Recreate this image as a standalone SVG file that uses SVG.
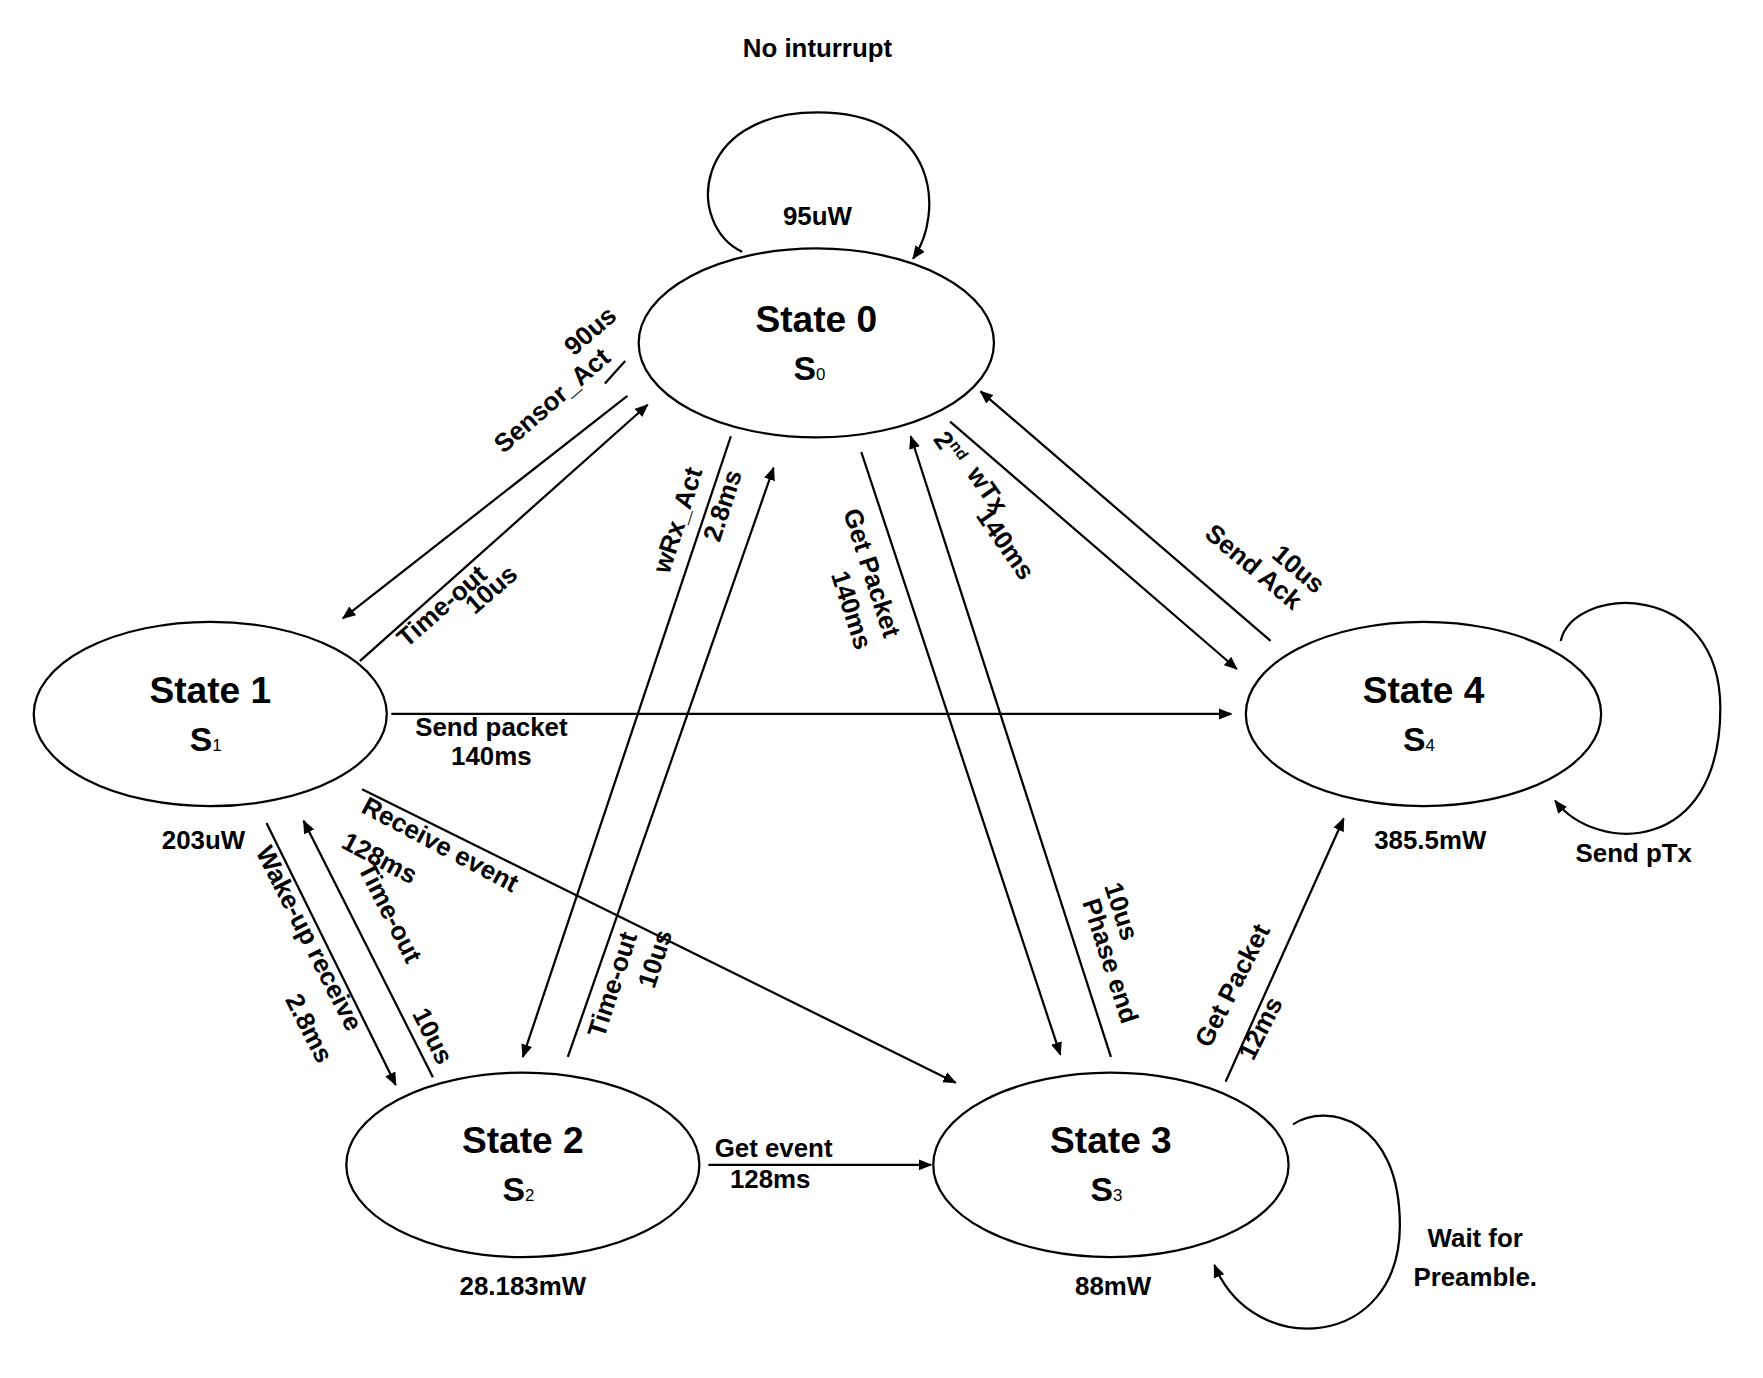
<svg xmlns="http://www.w3.org/2000/svg" width="1763" height="1378" viewBox="0 0 1763 1378">
<style>
.n{fill:#fff;stroke:#000;stroke-width:2}
.c{fill:none;stroke:#000;stroke-width:2}
text{font-family:"Liberation Sans Narrow","Liberation Sans",Arial,sans-serif;font-weight:bold;fill:#000;text-anchor:middle}
.t{font-size:33px}
.s{font-size:30px}
.l{font-size:23px}
.sub{font-size:15px;font-weight:normal}
</style>
<defs>
<marker id="a" viewBox="0 0 12 10" refX="11" refY="5" markerWidth="12" markerHeight="10" markerUnits="userSpaceOnUse" orient="auto"><path d="M0,0L12,5L0,10z" fill="#000"/></marker>
</defs>
<rect width="1763" height="1378" fill="#fff"/>
<g transform="scale(1.1244)">
<g id="nodes">
<g id="s0"><ellipse class="n" cx="726" cy="305" rx="158" ry="84"/><text class="t" x="726" y="295">State 0</text><text class="s" x="720" y="338">S<tspan class="sub">0</tspan></text><text class="l" x="727" y="200">95uW</text></g>
<g id="s1"><ellipse class="n" cx="187" cy="635" rx="157" ry="82"/><text class="t" x="187" y="625">State 1</text><text class="s" x="183" y="668">S<tspan class="sub">1</tspan></text><text class="l" x="181" y="755">203uW</text></g>
<g id="s2"><ellipse class="n" cx="465" cy="1036" rx="157" ry="82"/><text class="t" x="465" y="1025">State 2</text><text class="s" x="461" y="1068">S<tspan class="sub">2</tspan></text><text class="l" x="465" y="1152">28.183mW</text></g>
<g id="s3"><ellipse class="n" cx="988" cy="1036" rx="158" ry="82"/><text class="t" x="988" y="1025">State 3</text><text class="s" x="984" y="1068">S<tspan class="sub">3</tspan></text><text class="l" x="990" y="1152">88mW</text></g>
<g id="s4"><ellipse class="n" cx="1266" cy="635" rx="158" ry="82"/><text class="t" x="1266" y="625">State 4</text><text class="s" x="1262" y="668">S<tspan class="sub">4</tspan></text><text class="l" x="1272" y="755">385.5mW</text></g>
</g>
<g id="connectors">
<path class="c" marker-end="url(#a)" d="M660,224 C610,200 615,100 727,100 C835,100 840,190 812,230"/>
<path class="c" marker-end="url(#a)" d="M1388,570 C1400,520 1530,515 1530,630 C1530,760 1420,760 1383,712"/>
<path class="c" marker-end="url(#a)" d="M1150,1000 C1180,980 1245,995 1245,1090 C1245,1200 1115,1210 1080,1125"/>
<line class="c" marker-end="url(#a)" x1="558" y1="352" x2="305" y2="550"/>
<line class="c" x1="556" y1="321" x2="538" y2="341"/>
<line class="c" marker-end="url(#a)" x1="320" y1="588" x2="576" y2="360"/>
<line class="c" marker-end="url(#a)" x1="650" y1="388" x2="465" y2="940"/>
<line class="c" marker-end="url(#a)" x1="505" y1="940" x2="688" y2="416"/>
<line class="c" marker-end="url(#a)" x1="766" y1="402" x2="943" y2="938"/>
<line class="c" marker-end="url(#a)" x1="988" y1="940" x2="810" y2="388"/>
<line class="c" marker-end="url(#a)" x1="845" y1="375" x2="1100" y2="595"/>
<line class="c" marker-end="url(#a)" x1="1130" y1="570" x2="872" y2="348"/>
<line class="c" marker-end="url(#a)" x1="348" y1="635" x2="1095" y2="635"/>
<line class="c" marker-end="url(#a)" x1="237" y1="732" x2="352" y2="965"/>
<line class="c" marker-end="url(#a)" x1="385" y1="958" x2="270" y2="730"/>
<line class="c" marker-end="url(#a)" x1="322" y1="702" x2="850" y2="963"/>
<line class="c" marker-end="url(#a)" x1="630" y1="1036" x2="828" y2="1036"/>
<line class="c" marker-end="url(#a)" x1="1090" y1="962" x2="1195" y2="728"/>
</g>
<g id="labels" class="l">
<text class="l" x="727" y="51">No inturrupt</text>
<text class="l" x="1453" y="767">Send pTx</text>
<text class="l" x="1312" y="1109">Wait for</text>
<text class="l" x="1312" y="1144">Preamble.</text>
<text class="l" x="437" y="655">Send packet</text>
<text class="l" x="437" y="680">140ms</text>
<text class="l" x="688" y="1029">Get event</text>
<text class="l" x="685" y="1057">128ms</text>
<text class="l" transform="translate(496,362) rotate(-41)">Sensor_Act</text>
<text class="l" transform="translate(530,300) rotate(-41)">90us</text>
<text class="l" transform="translate(398,545) rotate(-41)">Time-out</text>
<text class="l" transform="translate(442,530) rotate(-41)">10us</text>
<text class="l" transform="translate(610,465) rotate(-72)">wRx_Act</text>
<text class="l" transform="translate(650,452) rotate(-72)">2.8ms</text>
<text class="l" transform="translate(552,878) rotate(-72)">Time-out</text>
<text class="l" transform="translate(590,855) rotate(-72)">10us</text>
<text class="l" transform="translate(768,512) rotate(72)">Get Packet</text>
<text class="l" transform="translate(750,545) rotate(72)">140ms</text>
<text class="l" transform="translate(990,813) rotate(72)">10us</text>
<text class="l" transform="translate(980,857) rotate(72)">Phase end</text>
<text class="l" transform="translate(838,403) rotate(55)">2<tspan font-size="14" dy="-9">nd</tspan></text>
<text class="l" transform="translate(872,440) rotate(55)">wTx</text>
<text class="l" transform="translate(888,488) rotate(55)">140ms</text>
<text class="l" transform="translate(1150,512) rotate(40)">10us</text>
<text class="l" transform="translate(1110,510) rotate(40)">Send Ack</text>
<text class="l" transform="translate(388,758) rotate(28)">Receive event</text>
<text class="l" transform="translate(334,770) rotate(28)">128ms</text>
<text class="l" transform="translate(268,838) rotate(63)">Wake-up receive</text>
<text class="l" transform="translate(268,918) rotate(63)">2.8ms</text>
<text class="l" transform="translate(340,815) rotate(63)">Time-out</text>
<text class="l" transform="translate(378,925) rotate(63)">10us</text>
<text class="l" transform="translate(1103,880) rotate(-63)">Get Packet</text>
<text class="l" transform="translate(1128,918) rotate(-63)">12ms</text>
</g>
</g>
</svg>
